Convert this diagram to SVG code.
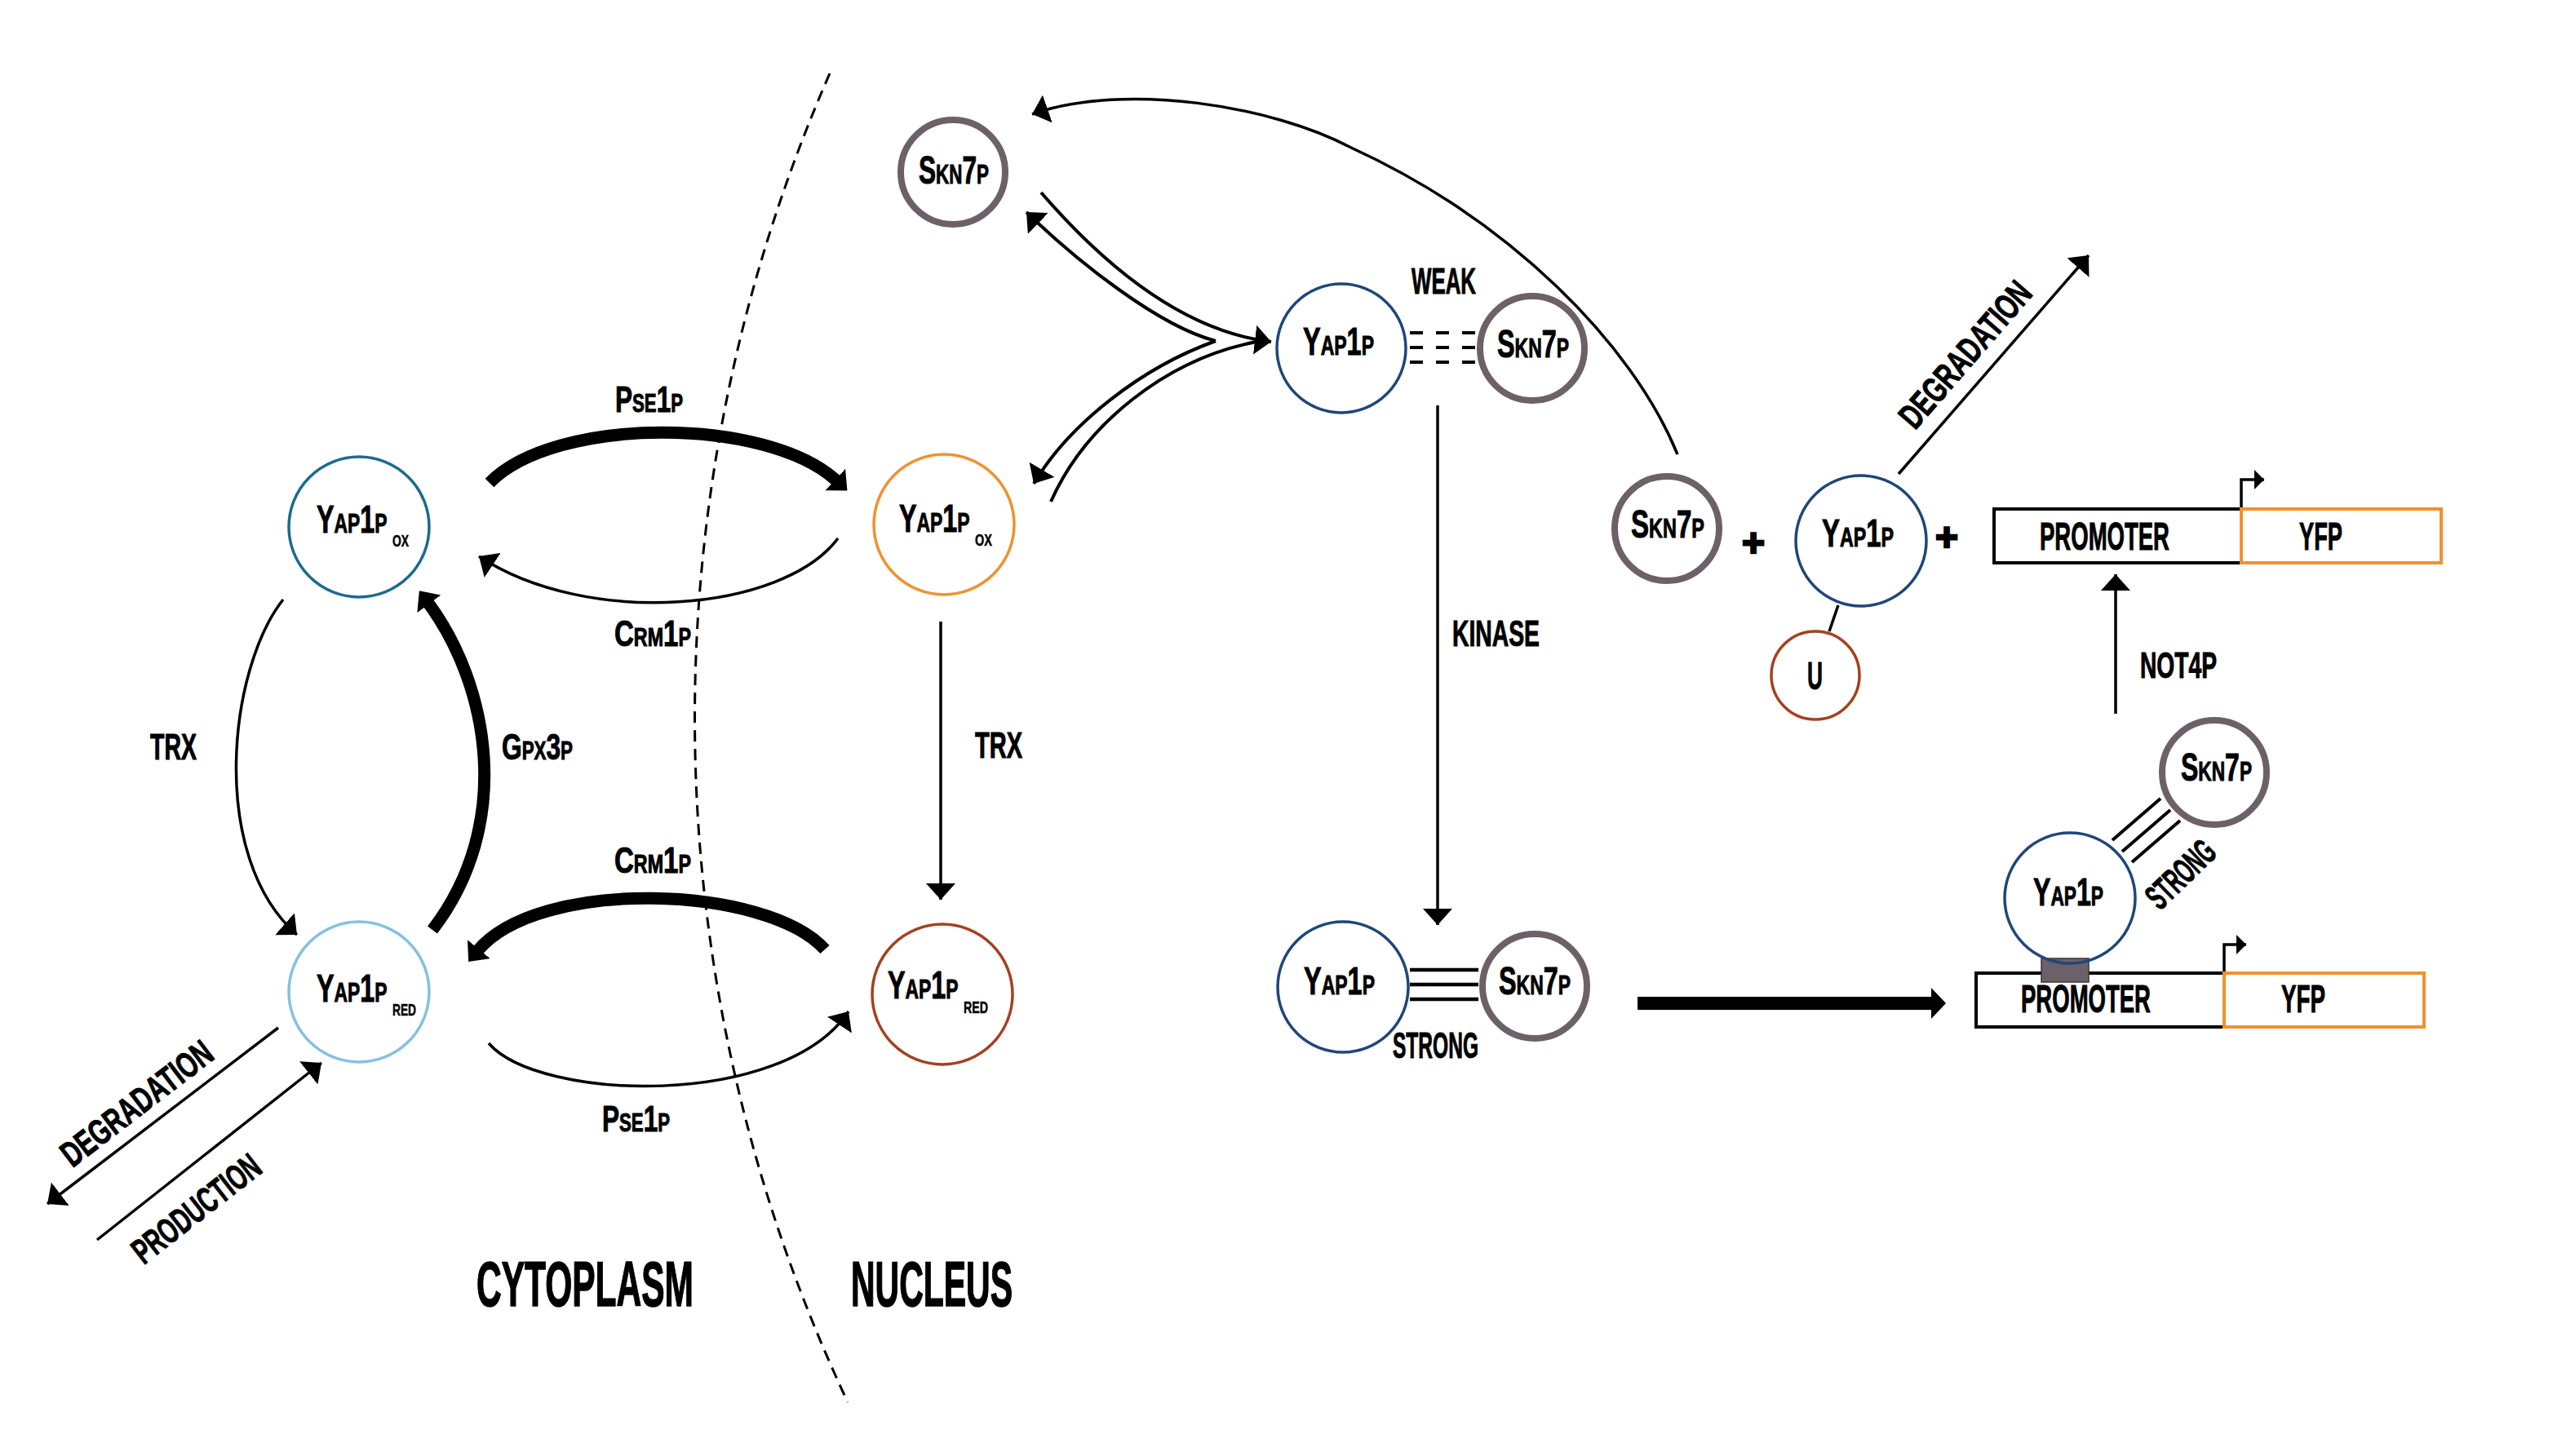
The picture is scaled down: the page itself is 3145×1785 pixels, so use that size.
<svg xmlns="http://www.w3.org/2000/svg" width="3145" height="1785" viewBox="0 0 3145 1785">
<defs>
<style>
text{font-family:"Liberation Sans",Arial,sans-serif;font-weight:bold;fill:#000;stroke:#000;stroke-width:1}
.n{font-size:48px}
.e{font-size:44px}
.sub{font-size:21px;stroke-width:0.5}
.big{font-size:78px;stroke-width:1.5}
.s{font-variant:small-caps}
.yb{fill:#fff;stroke:#1e4778;stroke-width:3.5}
.sk{fill:#fff;stroke:#6c6169;stroke-width:8}
.ln{fill:none;stroke:#000;stroke-width:3.5}
.cv{fill:none;stroke:#000;stroke-width:4}
.th{fill:none;stroke:#000;stroke-width:15}
.bx{fill:#fff;stroke:#000;stroke-width:4}
.yfp{fill:#fff;stroke:#f0912f;stroke-width:4}
</style>
<marker id="ah" viewBox="0 0 20 36" refX="20" refY="18" markerWidth="20" markerHeight="36" markerUnits="userSpaceOnUse" orient="auto"><path d="M0,0 L20,18 L0,36 Z" fill="#000"/></marker>
<marker id="ahT" viewBox="0 0 20 36" refX="3" refY="18" markerWidth="20" markerHeight="36" markerUnits="userSpaceOnUse" orient="auto"><path d="M0,0 L20,18 L0,36 Z" fill="#000"/></marker>
<marker id="ahS" viewBox="0 0 12 24" refX="12" refY="12" markerWidth="12" markerHeight="24" markerUnits="userSpaceOnUse" orient="auto"><path d="M0,0 L12,12 L0,24 Z" fill="#000"/></marker>
<marker id="ahB" viewBox="0 0 18 38" refX="2" refY="19" markerWidth="18" markerHeight="38" markerUnits="userSpaceOnUse" orient="auto"><path d="M0,0 L18,19 L0,38 Z" fill="#000"/></marker>
</defs>
<rect width="3145" height="1785" fill="#fff"/>

<g id="connectors">
  <path id="membrane" d="M1017,90 A1970,1970 0 0 0 1039,1719" fill="none" stroke="#000" stroke-width="3" stroke-dasharray="14 9"/>
  <path class="th" d="M600,592 C680,510 940,510 1026,590" marker-end="url(#ahT)"/>
  <path class="ln" d="M1027,660 C960,750 720,770 587,682" marker-end="url(#ah)"/>
  <path class="th" d="M1011,1164 C940,1085 660,1075 585,1166" marker-end="url(#ahT)"/>
  <path class="ln" d="M599,1279 C660,1350 960,1360 1040,1240" marker-end="url(#ah)"/>
  <path class="th" d="M530,1140 C630,1010 600,840 524,738" marker-end="url(#ahT)"/>
  <path class="ln" d="M347,735 C280,820 255,1050 364,1146" marker-end="url(#ah)"/>
  <path class="ln" d="M1153,762 L1153,1103" marker-end="url(#ah)"/>
  <path class="ln" d="M341,1260 L58,1476" marker-end="url(#ah)"/>
  <path class="ln" d="M119,1520 L394,1303" marker-end="url(#ah)"/>
  <path class="cv" d="M1276,236 C1340,310 1440,405 1558,419" marker-end="url(#ah)"/>
  <path class="cv" d="M1490,418 C1420,400 1320,320 1258,260" marker-end="url(#ah)"/>
  <path class="cv" d="M1490,418 C1400,450 1310,520 1267,593" marker-end="url(#ah)"/>
  <path class="cv" d="M1288,615 C1330,520 1430,440 1540,419"/>
  <path class="ln" d="M2056,557 C2000,420 1850,270 1656,181 C1560,130 1380,100 1265,140" marker-end="url(#ah)"/>
  <path class="ln" d="M1762,497 L1762,1134" marker-end="url(#ah)"/>
  <g stroke="#000" stroke-width="4" stroke-dasharray="16 16">
    <line x1="1728" y1="408" x2="1808" y2="408"/>
    <line x1="1728" y1="426" x2="1808" y2="426"/>
    <line x1="1728" y1="444" x2="1808" y2="444"/>
  </g>
  <g stroke="#000" stroke-width="4.5">
    <line x1="1728" y1="1189" x2="1812" y2="1189"/>
    <line x1="1728" y1="1207" x2="1812" y2="1207"/>
    <line x1="1728" y1="1225" x2="1812" y2="1225"/>
  </g>
  <g stroke="#000" stroke-width="4">
    <line x1="2589" y1="1030" x2="2648" y2="979"/>
    <line x1="2601" y1="1044" x2="2660" y2="993"/>
    <line x1="2613" y1="1057" x2="2672" y2="1006"/>
  </g>
  <line x1="2253" y1="742" x2="2242" y2="774" stroke="#000" stroke-width="3.5"/>
  <path class="ln" d="M2327,581 L2560,313" marker-end="url(#ah)"/>
  <path class="ln" d="M2593,875 L2593,704" marker-end="url(#ah)"/>
  <path d="M2007,1230 L2369,1230" fill="none" stroke="#000" stroke-width="16" marker-end="url(#ahB)"/>
</g>

<g id="edge-labels">
  <text class="e s" x="754" y="505" textLength="83" lengthAdjust="spacingAndGlyphs">Pse1p</text>
  <text class="e s" x="753" y="792" textLength="94" lengthAdjust="spacingAndGlyphs">Crm1p</text>
  <text class="e s" x="753" y="1070" textLength="94" lengthAdjust="spacingAndGlyphs">Crm1p</text>
  <text class="e s" x="738" y="1387" textLength="83" lengthAdjust="spacingAndGlyphs">Pse1p</text>
  <text class="e s" x="615" y="931" textLength="87" lengthAdjust="spacingAndGlyphs">Gpx3p</text>
  <text class="e" x="184" y="931" textLength="57" lengthAdjust="spacingAndGlyphs">TRX</text>
  <text class="e" x="1195" y="929" textLength="58" lengthAdjust="spacingAndGlyphs">TRX</text>
  <text class="e" x="1730" y="360" textLength="79" lengthAdjust="spacingAndGlyphs">WEAK</text>
  <text class="e" x="1780" y="792" textLength="107" lengthAdjust="spacingAndGlyphs">KINASE</text>
  <text class="e" x="1707" y="1297" textLength="105" lengthAdjust="spacingAndGlyphs">STRONG</text>
  <text class="e" x="2623" y="831" textLength="94" lengthAdjust="spacingAndGlyphs">NOT4P</text>
  <text class="e" transform="translate(167,1352) rotate(-37.5)" x="0" y="16" text-anchor="middle" textLength="222" lengthAdjust="spacingAndGlyphs">DEGRADATION</text>
  <text class="e" transform="translate(240,1481) rotate(-38)" x="0" y="16" text-anchor="middle" textLength="187" lengthAdjust="spacingAndGlyphs">PRODUCTION</text>
  <text class="e" transform="translate(2408,434) rotate(-49)" x="0" y="16" text-anchor="middle" textLength="222" lengthAdjust="spacingAndGlyphs">DEGRADATION</text>
  <text class="e" transform="translate(2672,1071) rotate(-44)" x="0" y="16" text-anchor="middle" textLength="100" lengthAdjust="spacingAndGlyphs">STRONG</text>
  <text class="n" x="2149" y="682" text-anchor="middle" style="stroke-width:2.5">+</text>
  <text class="n" x="2386" y="675" text-anchor="middle" style="stroke-width:2.5">+</text>
  <text class="big" x="584" y="1601" textLength="266" lengthAdjust="spacingAndGlyphs">CYTOPLASM</text>
  <text class="big" x="1043" y="1601" textLength="198" lengthAdjust="spacingAndGlyphs">NUCLEUS</text>
</g>

<g id="yap1p-ox-cyto">
  <circle cx="440" cy="646" r="86" fill="#fff" stroke="#1c6b8e" stroke-width="3.5"/>
  <text class="n s" transform="translate(388,653) scale(0.673,1)">Yap1p</text>
  <text class="sub" transform="translate(481,670) scale(0.66,1)">OX</text>
</g>
<g id="yap1p-ox-nuc">
  <circle cx="1157" cy="643" r="86" fill="#fff" stroke="#f0912f" stroke-width="3.5"/>
  <text class="n s" transform="translate(1102,652) scale(0.673,1)">Yap1p</text>
  <text class="sub" transform="translate(1195,669) scale(0.69,1)">OX</text>
</g>
<g id="yap1p-red-cyto">
  <circle cx="440" cy="1216" r="86" fill="#fff" stroke="#85c1df" stroke-width="3.5"/>
  <text class="n s" transform="translate(388,1228) scale(0.673,1)">Yap1p</text>
  <text class="sub" transform="translate(481,1245) scale(0.655,1)">RED</text>
</g>
<g id="yap1p-red-nuc">
  <circle cx="1155" cy="1219" r="86" fill="#fff" stroke="#a4411f" stroke-width="3.5"/>
  <text class="n s" transform="translate(1088,1224) scale(0.673,1)">Yap1p</text>
  <text class="sub" transform="translate(1181,1242) scale(0.677,1)">RED</text>
</g>
<g id="skn7p-top">
  <circle class="sk" cx="1168" cy="211" r="64"/>
  <text class="n s" x="1126" y="225" textLength="86" lengthAdjust="spacingAndGlyphs">Skn7p</text>
</g>
<g id="yap1p-weak">
  <circle class="yb" cx="1644" cy="427" r="79"/>
  <text class="n s" x="1597" y="435" textLength="87" lengthAdjust="spacingAndGlyphs">Yap1p</text>
</g>
<g id="skn7p-weak">
  <circle class="sk" cx="1878" cy="427" r="64"/>
  <text class="n s" x="1835" y="438" textLength="88" lengthAdjust="spacingAndGlyphs">Skn7p</text>
</g>
<g id="yap1p-strong">
  <circle class="yb" cx="1646" cy="1210" r="80"/>
  <text class="n s" x="1598" y="1219" textLength="87" lengthAdjust="spacingAndGlyphs">Yap1p</text>
</g>
<g id="skn7p-strong">
  <circle class="sk" cx="1881" cy="1209" r="64"/>
  <text class="n s" x="1837" y="1219" textLength="88" lengthAdjust="spacingAndGlyphs">Skn7p</text>
</g>
<g id="skn7p-free">
  <circle class="sk" cx="2043" cy="648" r="64"/>
  <text class="n s" x="1999" y="659" textLength="90" lengthAdjust="spacingAndGlyphs">Skn7p</text>
</g>
<g id="yap1p-ub">
  <circle class="yb" cx="2281" cy="663" r="80"/>
  <text class="n s" x="2233" y="670" textLength="88" lengthAdjust="spacingAndGlyphs">Yap1p</text>
</g>
<g id="ubiquitin">
  <circle cx="2225" cy="828" r="54" fill="#fff" stroke="#a4411f" stroke-width="3.5"/>
  <text class="n" x="2215" y="845" textLength="19" lengthAdjust="spacingAndGlyphs">U</text>
</g>
<g id="promoter-top">
  <rect class="bx" x="2444" y="624" width="303" height="66"/>
  <rect class="yfp" x="2747" y="624" width="245" height="66"/>
  <path d="M2747,622 V588 H2775" fill="none" stroke="#000" stroke-width="3.5" marker-end="url(#ahS)"/>
  <text class="n" x="2500" y="674" textLength="159" lengthAdjust="spacingAndGlyphs">PROMOTER</text>
  <text class="n" x="2818" y="674" textLength="53" lengthAdjust="spacingAndGlyphs">YFP</text>
</g>
<g id="skn7p-bound">
  <circle class="sk" cx="2714" cy="947" r="64"/>
  <text class="n s" x="2673" y="957" textLength="87" lengthAdjust="spacingAndGlyphs">Skn7p</text>
</g>
<g id="promoter-bottom">
  <rect class="bx" x="2422" y="1193" width="304" height="66"/>
  <rect class="yfp" x="2726" y="1193" width="245" height="66"/>
  <path d="M2726,1191 V1158 H2753" fill="none" stroke="#000" stroke-width="3.5" marker-end="url(#ahS)"/>
  <text class="n" x="2477" y="1241" textLength="159" lengthAdjust="spacingAndGlyphs">PROMOTER</text>
  <text class="n" x="2796" y="1241" textLength="54" lengthAdjust="spacingAndGlyphs">YFP</text>
</g>
<g id="yap1p-bound">
  <circle cx="2537" cy="1101" r="80" fill="#fff" stroke="none"/>
  <rect x="2502" y="1175" width="58" height="29" fill="#6c6169" stroke="#3a3438" stroke-width="1.5"/>
  <circle cx="2537" cy="1101" r="80" fill="none" stroke="#1e4778" stroke-width="3.5"/>
  <text class="n s" x="2492" y="1110" textLength="86" lengthAdjust="spacingAndGlyphs">Yap1p</text>
</g>
</svg>
